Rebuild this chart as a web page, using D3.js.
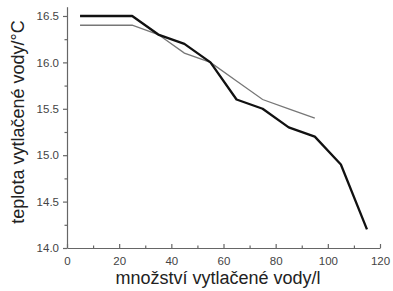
<!DOCTYPE html>
<html>
<head>
<meta charset="utf-8">
<script src="https://cdn.jsdelivr.net/npm/d3@7"></script>
<style>
body { margin: 0; background: #fff; }
svg { display: block; }
.axis text { font-family: "Liberation Sans", Arial, sans-serif; fill: #444; }
.title { font-family: "Liberation Sans", Arial, sans-serif; fill: #222; }
</style>
</head>
<body>
<div id="chart"></div>
<script>
// data
var waterA = [5, 25, 35, 45, 55, 65, 75, 85, 95, 105, 115];
var tempA = [16.5, 16.5, 16.3, 16.2, 16.0, 15.6, 15.5, 15.3, 15.2, 14.9, 14.2];
var waterB = [5, 25, 35, 45, 55, 65, 75, 85, 95];
var tempB = [16.4, 16.4, 16.3, 16.1, 16.0, 15.8, 15.6, 15.5, 15.4];
var xTicks = [0, 20, 40, 60, 80, 100, 120];
var yTicks = [14.0, 14.5, 15.0, 15.5, 16.0, 16.5];

var width = 393, height = 291;

var svg = d3.select('#chart')
    .append('svg')
    .attr('width', width)
    .attr('height', height);

var x_scale = d3.scaleLinear()
    .domain([0, 120])
    .range([67, 380]);

var y_scale = d3.scaleLinear()
    .domain([14, 16.6])
    .range([248, 6.7]);

// minor ticks first
svg.append('g')
    .attr('class', 'axis')
    .attr('transform', 'translate(0,248)')
    .call(d3.axisBottom(x_scale).tickValues(d3.range(10, 120, 20)).tickSize(-2.5).tickFormat(''))
    .call(function(g) { g.select('.domain').remove(); });

svg.append('g')
    .attr('class', 'axis')
    .attr('transform', 'translate(67,0)')
    .call(d3.axisLeft(y_scale).tickValues(d3.range(14.25, 16.5, 0.5)).tickSize(2.5).tickFormat(''))
    .call(function(g) { g.select('.domain').remove(); });

var x_axis = svg.append('g')
    .attr('class', 'axis')
    .attr('transform', 'translate(0,248)')
    .call(d3.axisBottom(x_scale).tickValues(xTicks).tickSize(-4).tickSizeOuter(0).tickPadding(9));

var y_axis = svg.append('g')
    .attr('class', 'axis')
    .attr('transform', 'translate(67,0)')
    .call(d3.axisLeft(y_scale).tickValues(yTicks).tickSize(4).tickSizeOuter(0).tickPadding(4).tickFormat(d3.format('.1f')));

svg.selectAll('.axis text').style('font-size', '11.5px');
svg.selectAll('.axis path, .axis line').attr('stroke', '#666').attr('stroke-width', 1.2);

var line = d3.line()
    .x(function(d) { return x_scale(d[0]); })
    .y(function(d) { return y_scale(d[1]); });

svg.append('path')
    .datum(d3.zip(waterB, tempB))
    .attr('fill', 'none')
    .attr('stroke', '#777')
    .attr('stroke-width', 1.3)
    .attr('d', line);

svg.append('path')
    .datum(d3.zip(waterA, tempA))
    .attr('fill', 'none')
    .attr('stroke', '#111')
    .attr('stroke-width', 2.3)
    .attr('stroke-linejoin', 'round')
    .attr('d', line);

// axis titles
svg.append('text')
    .attr('class', 'title')
    .attr('x', 218)
    .attr('y', 284)
    .attr('text-anchor', 'middle')
    .style('font-size', '18px')
    .text('množství vytlačené vody/l');

svg.append('text')
    .attr('class', 'title')
    .attr('transform', 'translate(24,122) rotate(-90)')
    .attr('text-anchor', 'middle')
    .style('font-size', '18px')
    .text('teplota vytlačené vody/°C');
</script>
</body>
</html>
